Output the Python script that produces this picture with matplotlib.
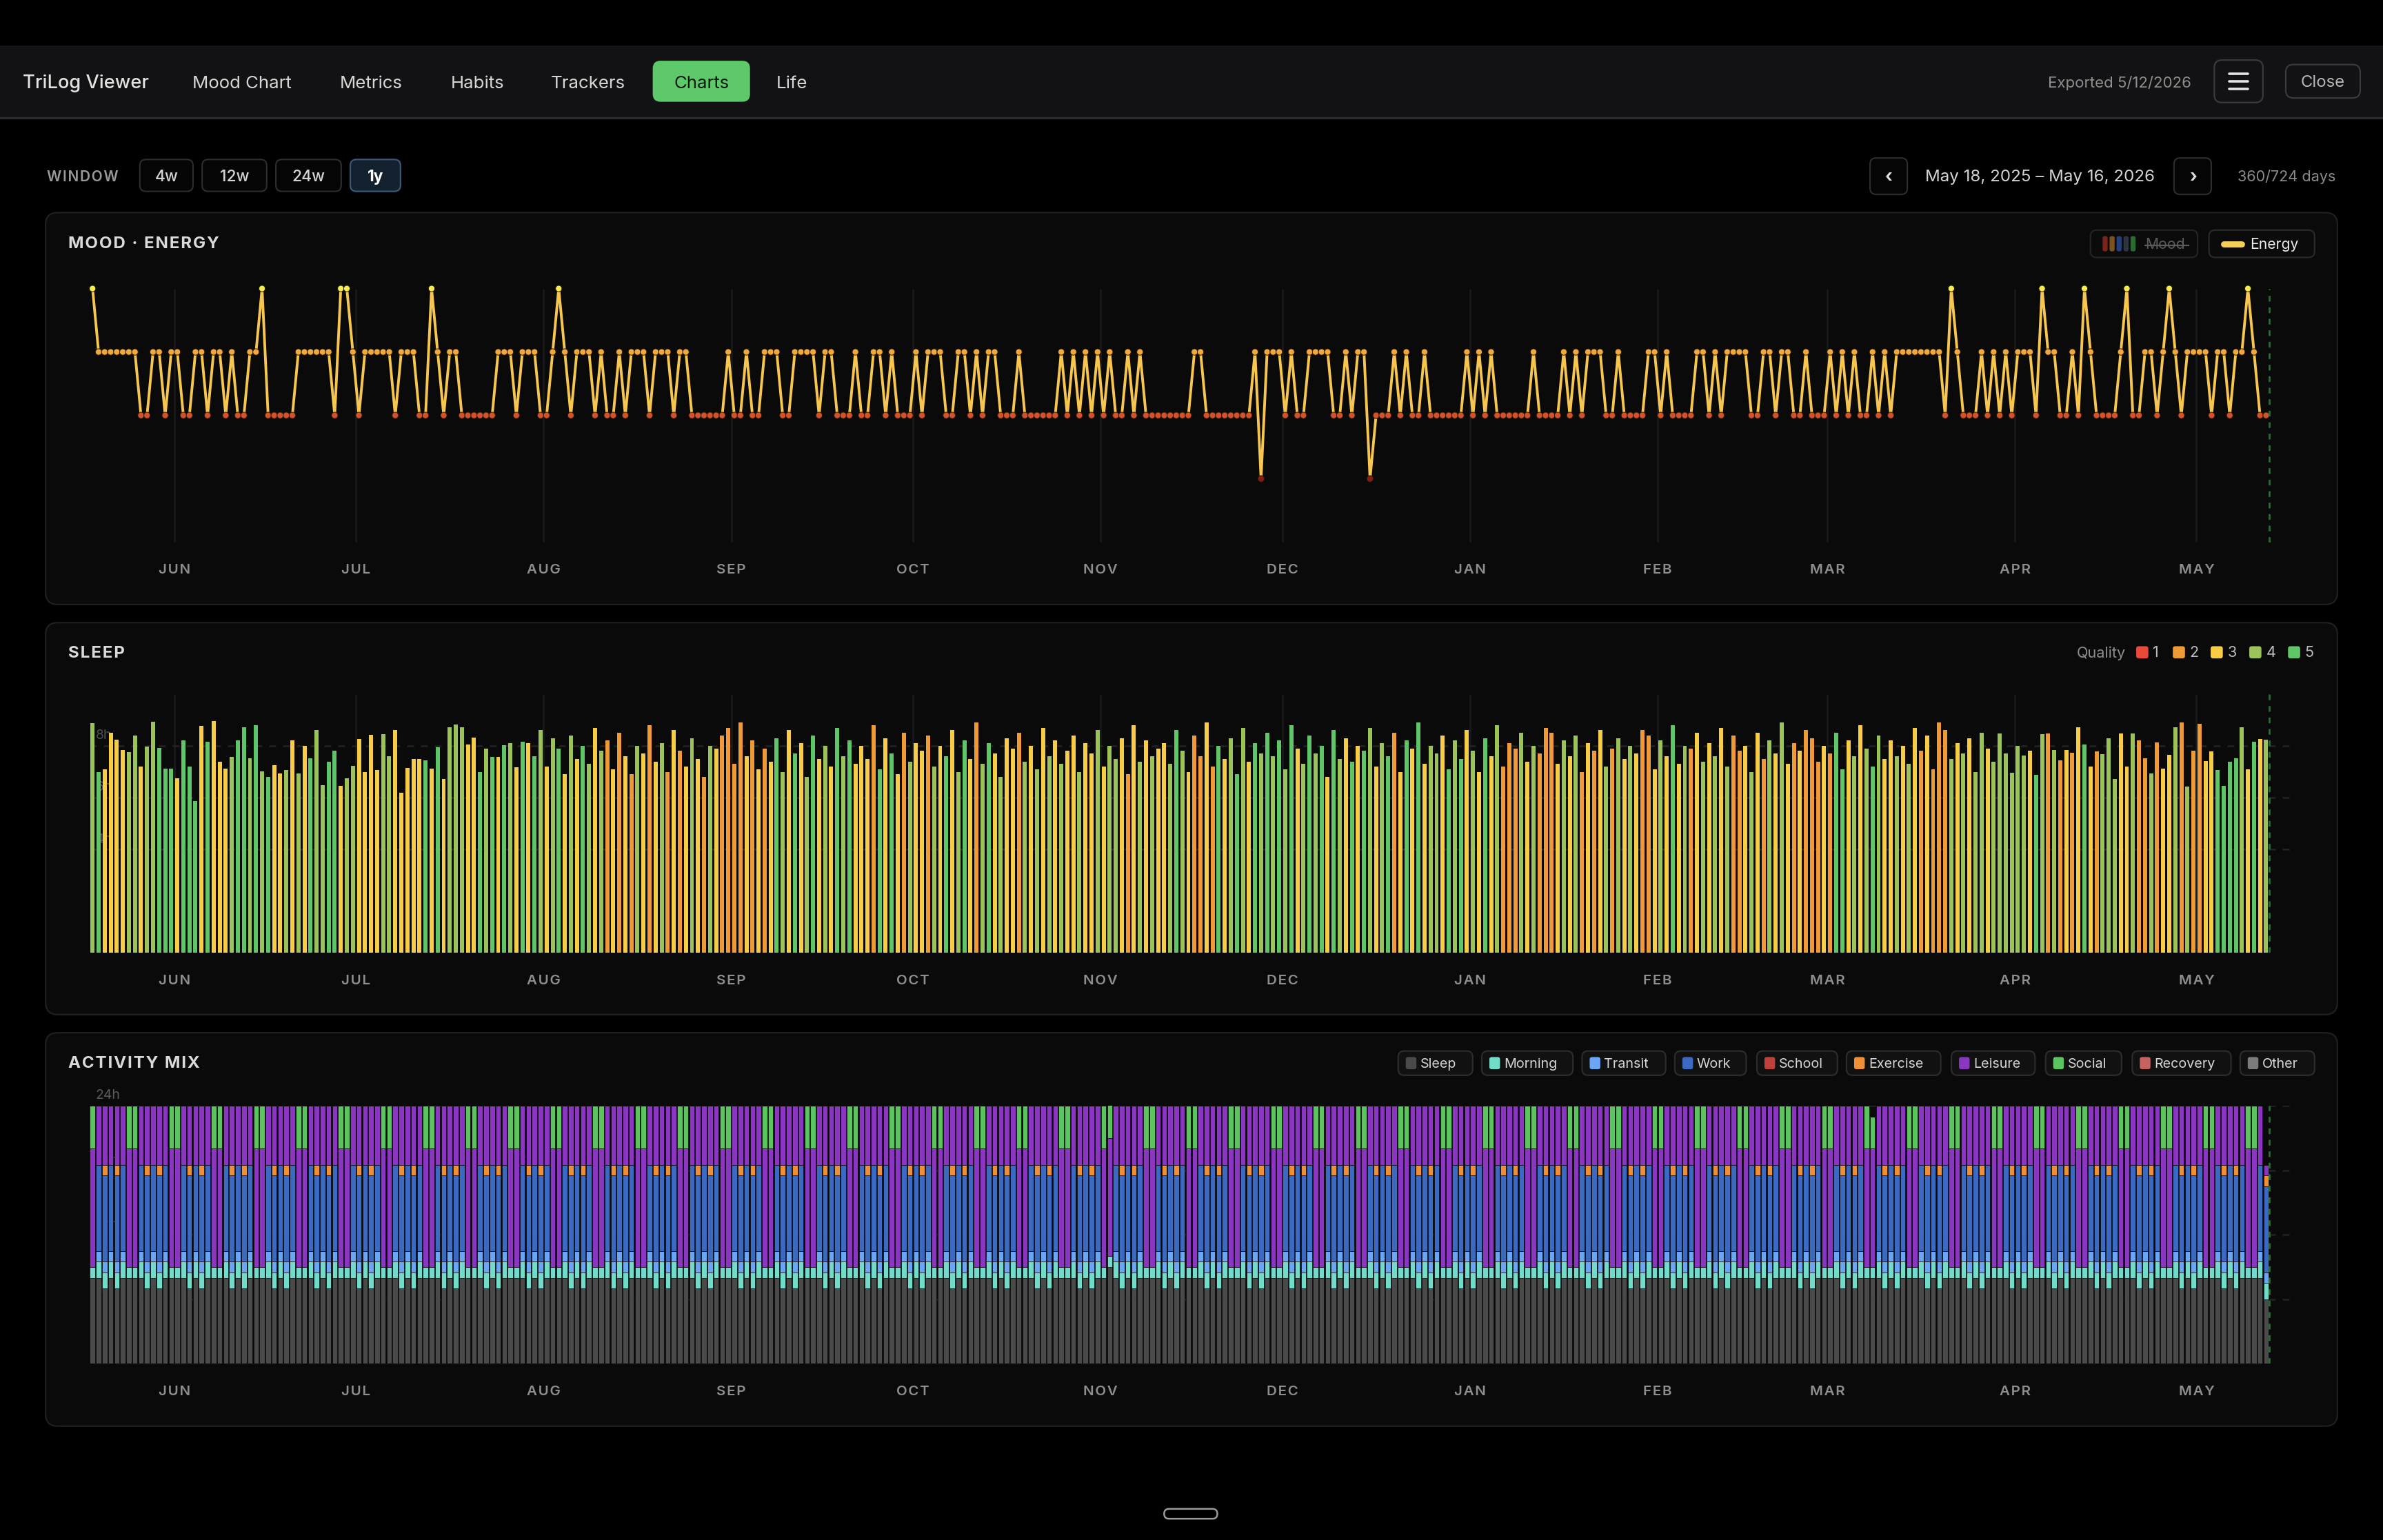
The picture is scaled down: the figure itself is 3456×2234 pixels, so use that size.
import matplotlib
matplotlib.use('Agg')
import matplotlib.pyplot as plt
from matplotlib.patches import FancyBboxPatch
import numpy as np

plt.rcParams['font.family'] = ['Inter', 'DejaVu Sans']

# ---------------- data ----------------
MONTHS = ['JUN', 'JUL', 'AUG', 'SEP', 'OCT', 'NOV', 'DEC', 'JAN', 'FEB', 'MAR', 'APR', 'MAY']
MONTH_DAY = [14, 44, 75, 106, 136, 167, 197, 228, 259, 287, 318, 348]  # days after May 18, 2025
AXIS_DAYS = 364
TODAY = 360

# daily energy level, May 18 2025 -> May 12 2026 (360 days)
ENERGY = ("5444444433" "4434433443" "4434334453" "3333444444" "3554344444"
          "3444335434" "4333333444" "3444334543" "4443433434" "4434443443"
          "3333343343" "3444334444" "3443334334" "4343334344" "4334434344"
          "3334333333" "4343434343" "3434333333" "3344333333" "3342444343"
          "3444433434" "4233343433" "4333333434" "3433333343" "3334343444"
          "3343333443" "4333344343" "4444334434" "4334333434" "3433434344"
          "4444443543" "3343434344" "4354433435" "4333345334" "4345434444"
          "3443445433")

# nightly sleep (hours) and quality (1-5)
SLEEP_HOURS = [
    8.87, 7.0, 7.1, 8.5, 8.23, 7.85, 7.77, 8.4, 7.2, 7.96, 8.93, 7.93, 7.11, 7.11, 6.74,
    8.21, 7.2, 5.88, 8.76, 8.15, 8.96, 7.4, 7.13, 7.57, 8.21, 8.73, 7.53, 8.8, 7.02, 6.8,
    7.25, 6.94, 7.08, 8.2, 6.94, 8.0, 7.53, 8.6, 6.47, 7.38, 7.81, 6.45, 6.76, 7.23, 8.27,
    7.0, 8.42, 7.06, 8.46, 7.6, 8.61, 6.2, 7.16, 7.5, 7.5, 7.43, 7.11, 7.95, 6.71, 8.73,
    8.82, 8.71, 8.04, 8.31, 7.0, 7.88, 7.57, 7.57, 8.03, 8.1, 7.17, 8.17,
    8.1, 7.6, 8.6, 7.2, 8.3, 7.9, 6.9, 8.4, 7.5, 8.0, 7.3, 8.7, 7.8,
    8.2, 7.1, 8.5, 7.6, 6.9, 8.0, 7.7,
    8.8, 7.4, 8.1, 7.0, 8.6, 7.8, 7.2, 8.3, 7.5, 6.8, 8.0, 7.9, 8.4,
    8.7, 7.3, 8.9, 7.6, 8.2, 7.1, 7.9,
    7.4, 8.3, 7.0, 8.6, 7.7, 8.1, 6.8, 8.4, 7.5, 8.0, 7.2, 8.7, 7.6, 8.2, 7.3,
    8.0, 7.5, 8.8, 7.1, 8.3, 7.7, 6.9, 8.5, 7.4, 8.1,
    7.8, 8.4, 7.2, 8.0, 7.6, 8.6, 7.0, 8.2, 7.5, 8.9, 7.3, 8.1, 7.7, 6.8, 8.3,
    7.9, 8.5, 7.4, 8.0, 7.1, 8.7, 7.6, 8.2, 7.3, 7.8,
    8.4, 7.0, 8.1, 7.7, 8.6, 7.2, 8.0, 7.5, 8.3, 6.9, 8.8, 7.4, 8.2, 7.6, 7.9,
    8.1, 7.3, 8.6, 7.8, 7.0, 8.4, 7.6, 8.9, 7.2, 8.0, 7.5, 8.3, 6.9, 8.7, 7.4, 8.1, 7.7, 8.5,
    7.6, 8.2, 7.1, 8.8, 7.9, 7.3, 8.4, 7.7, 8.0, 6.8, 8.6, 7.5,
    8.3, 7.4, 8.0, 7.8, 8.7, 7.2, 8.1, 7.6, 8.5, 7.0, 8.2, 7.9, 8.9, 7.3, 8.0,
    7.7, 8.4, 7.1, 8.2, 7.5, 8.6, 7.8, 7.0, 8.3, 7.6, 8.8, 7.2, 8.1, 7.9, 8.5,
    7.4, 8.0, 7.7, 8.7, 8.5, 7.3, 8.2, 7.6, 8.4, 7.0, 8.1, 7.8, 8.6, 7.2, 7.9,
    8.3, 7.5, 8.0, 7.7, 8.6, 8.4, 7.1, 8.2, 7.6, 8.8, 7.3, 8.0, 7.9, 8.5, 7.4,
    8.1, 7.6, 8.7, 7.2, 8.4, 7.8, 8.0, 7.0, 8.5, 7.5, 8.2, 7.7, 8.9, 7.3, 8.1,
    7.8, 8.6, 8.3, 7.4, 8.0, 7.7, 8.5, 7.1, 8.2, 7.6, 8.8, 7.9, 7.2, 8.4, 7.5,
    8.2, 7.6, 8.0, 7.3, 8.7, 7.8, 8.4, 7.1, 8.9, 8.6, 7.5, 8.1, 7.7, 8.3, 7.0, 8.5, 7.9, 7.4,
    8.47, 7.7, 6.97, 8.0, 7.63, 7.81, 6.89, 8.45, 8.49, 7.85, 7.45, 7.85, 7.73, 8.72, 8.06,
    7.21, 7.78, 7.69, 8.29, 6.71, 8.47, 7.2, 8.47, 8.2, 7.53, 6.94, 8.14, 7.13, 7.66, 8.72,
    8.91, 6.44, 7.81, 8.85, 7.41, 7.78, 7.06, 6.46, 7.38, 7.53, 8.72, 7.09, 8.16, 8.27, 8.25,
]
SLEEP_QUALITY = ("4533334434" "4555355535" "3334554545" "3343435445" "5344333344"
                 "3333353534" "4433545354" "35"
                 "3543453435434" "2323243" "2342323432432" "2223232" "354353453435453"
                 "3325353243" "324353453245343" "3243434343" "343343443234343"
                 "345432232534543545" "454534545354" "353543452353534" "435453435342224"
                 "342223434232342" "434322343534234" "343422343243432" "322232553434543"
                 "343432322243434434"
                 "4444435424" "2323532444" "3342242334" "2422335555" "43534")

ACTIVITIES = ['Sleep', 'Morning', 'Transit', 'Work', 'School', 'Exercise', 'Leisure', 'Social',
              'Recovery', 'Other']
# hours per activity for each kind of day (W weekend, N workday, E workday + exercise,
# L 25h DST day, S 23h DST day, P partial last day)
DAY_KIND_HOURS = {
    'W': [8, 1, 0, 0, 0, 0, 11, 4, 0, 0],
    'N': [8, 1.5, 1, 8, 0, 0, 5.5, 0, 0, 0],
    'E': [7, 1.5, 1, 8, 0, 1, 5.5, 0, 0, 0],
    'L': [9, 1, 0, 0, 0, 0, 11, 4, 0, 0],
    'S': [8, 1, 0, 0, 0, 0, 11, 3, 0, 0],
    'P': [6, 1.5, 1, 8, 0, 1, 1, 0, 0, 0],
}
DAY_KINDS = ("WNENENW" "WNENENW" "WNENENW" "WNENENW" "WNENENW" "WNENENW" "WNENENW" "WNENENW"
             "WNENENW" "WNENENW" "WNENENW" "WNENENW" "WNENENW" "WNENENW" "WNENENW" "WNENENW"
             "WNENENW" "WNENENW" "WNENENW" "WNENENW" "WNENENW" "WNENENW" "WNENENW" "WNENENW"
             "LNENENW" "WNENENW" "WNENENW" "WNENENW" "WNENENW" "WNENENW" "WNENENW" "WNENENW"
             "WNENENW" "WNENENW" "WNENENW" "WNENENW" "WNENENW" "WNENENW" "WNENENW" "WNENENW"
             "WNENENW" "WNENENW" "SNENENW" "WNENENW" "WNENENW" "WNENENW" "WNENENW" "WNENENW"
             "WNENENW" "WNENENW" "WNENENW" "WNP")

# ---------------- styles ----------------
ENERGY_COLORS = {5: '#f7ec4a', 4: '#f2a83a', 3: '#d6502a', 2: '#8a1b12'}
QUALITY_COLORS = {1: '#e9493b', 2: '#f09a36', 3: '#f7cd46', 4: '#9cc35a', 5: '#5fc567'}
ACT_COLORS = ['#4a4a4a', '#72dccb', '#6aa6f4', '#3c6ac2', '#c0403a', '#f08f36', '#8a36c2',
              '#5cc45f', '#c6625f', '#7c7c7c']

BG = '#000000'
NAV_BG = '#121214'
PANEL_BG = '#0a0a0a'
PANEL_EDGE = '#202022'
GRID = '#1b1b1b'
MUTED = '#8e8e8e'


def spaced(s):
    return '\u200a'.join(s)


fig = plt.figure(figsize=(17.28, 11.17), dpi=200, facecolor=BG)
bg = fig.add_axes([0, 0, 1, 1])
bg.set_xlim(0, 1568)
bg.set_ylim(1014, 0)
bg.axis('off')
bg.set_facecolor(BG)


def box(x0, y0, x1, y1, r, fc, ec, lw=0.8, z=1):
    bg.add_patch(FancyBboxPatch((x0, y0), x1 - x0, y1 - y0,
                                boxstyle=f"round,pad=0,rounding_size={r}",
                                fc=fc, ec=ec, lw=lw, zorder=z))


def frame_axes(x0, y0, x1, y1):
    return fig.add_axes([x0 / 1568, 1 - y1 / 1014, (x1 - x0) / 1568, (y1 - y0) / 1014])


# nav bar
bg.add_patch(plt.Rectangle((0, 30), 1568, 47.6, fc=NAV_BG, ec='none', zorder=0))
bg.plot([0, 1568], [77.6, 77.6], color='#2a2a2c', lw=1.2, zorder=1)
bg.text(15, 55, 'TriLog Viewer', color='#e2e2e2', fontsize=9.8, va='center', ha='left', fontweight='medium')
for label, xc in [('Mood Chart', 159), ('Metrics', 244), ('Habits', 314), ('Trackers', 387), ('Life', 521)]:
    bg.text(xc, 55, label, color='#d6d6d6', fontsize=9.3, va='center', ha='center')
box(429.5, 40, 493.5, 67, 5, '#5ec96a', 'none', z=2)
bg.text(461.5, 55, 'Charts', color='#0c1a0e', fontsize=9.3, va='center', ha='center', zorder=3)
bg.text(1442, 54.5, 'Exported 5/12/2026', color=MUTED, fontsize=8, va='center', ha='right')
box(1457, 39.5, 1489, 67.5, 5, NAV_BG, '#3a3a3c', z=2)
for yy in (48.5, 53.5, 58.5):
    bg.plot([1467, 1479], [yy, yy], color='#e6e6e6', lw=1.3, solid_capstyle='round', zorder=3)
box(1504, 42.5, 1553, 64.5, 5, NAV_BG, '#3a3a3c', z=2)
bg.text(1528.5, 54.5, 'Close', color='#b8b8b8', fontsize=8.6, va='center', ha='center', zorder=3)

# window row
bg.text(31, 116.5, spaced('WINDOW'), color='#9a9a9a', fontsize=7.5, va='center', ha='left', fontweight='semibold')
for label, x0, x1, sel in [('4w', 92, 127, False), ('12w', 133, 175.5, False),
                           ('24w', 181.5, 224.5, False), ('1y', 230.5, 263.5, True)]:
    box(x0, 105, x1, 126, 4, '#13202e' if sel else '#050505', '#3b5878' if sel else '#2c2c2c', z=2)
    bg.text((x0 + x1) / 2, 116.5, label, color='#ffffff' if sel else '#d4d4d4', fontsize=8.2,
            va='center', ha='center', fontweight='bold' if sel else 'medium', zorder=3)
box(1230.5, 104, 1255, 128, 4, '#050505', '#2c2c2c', z=2)
bg.text(1242.8, 117, '‹', color='#e0e0e0', fontsize=9, va='center', ha='center', fontweight='bold', zorder=3)
box(1430.5, 104, 1455, 128, 4, '#050505', '#2c2c2c', z=2)
bg.text(1442.8, 117, '›', color='#e0e0e0', fontsize=9, va='center', ha='center', fontweight='bold', zorder=3)
bg.text(1342.5, 116.5, 'May 18, 2025 – May 16, 2026', color='#d4d4d4', fontsize=8.7, va='center', ha='center')
bg.text(1537, 116.5, '360/724 days', color='#8a8a8a', fontsize=7.8, va='center', ha='right')

# panels
PANELS = [(140, 398, 'MOOD · ENERGY'), (410, 668, 'SLEEP'), (680, 939, 'ACTIVITY MIX')]
for y0, y1, title in PANELS:
    box(30, y0, 1538, y1, 8, PANEL_BG, PANEL_EDGE, lw=0.8, z=1)
    bg.text(45, y0 + 20.5, spaced(title), color='#dadada', fontsize=8.7, va='center', ha='left',
            fontweight='bold', zorder=3)

# mood legend chips
box(1375.5, 151.5, 1446, 169.5, 4, '#0b0b0b', '#242424', z=2)
for i, c in enumerate(['#7a2418', '#7c5320', '#24407a', '#2f3540', '#2b6a33']):
    box(1383.5 + i * 4.6, 155.5, 1386.8 + i * 4.6, 165.5, 1.2, c, 'none', z=3)
bg.text(1411.5, 161, 'Mood', color='#5c5c5c', fontsize=7.6, va='center', ha='left', zorder=3)
bg.plot([1411.5, 1440], [161.5, 161.5], color='#5c5c5c', lw=0.8, zorder=4)
box(1453.5, 151.5, 1523, 169.5, 4, '#0b0b0b', '#2a2a2a', z=2)
bg.plot([1463, 1475], [160.5, 160.5], color='#f7cf55', lw=3.2, solid_capstyle='round', zorder=3)
bg.text(1480.5, 161, 'Energy', color='#ececec', fontsize=7.6, va='center', ha='left', zorder=3)

# sleep quality legend
bg.text(1398.5, 430, 'Quality', color='#8c8c8c', fontsize=7.8, va='center', ha='right', zorder=3)
for q, xs in zip(range(1, 6), [1405.6, 1429.7, 1454.6, 1480.0, 1505.5]):
    box(xs, 425.5, xs + 8, 433.5, 1.6, QUALITY_COLORS[q], 'none', z=3)
    bg.text(xs + 11, 430, str(q), color='#bdbdbd', fontsize=7.8, va='center', ha='left', zorder=3)

# activity legend chips
CHIP_X = [(920, 969), (975, 1035), (1041, 1096), (1102, 1149), (1156, 1209),
          (1215, 1277), (1284, 1339), (1346, 1396), (1403, 1468), (1474, 1523)]
for name, col, (x0, x1) in zip(ACTIVITIES, ACT_COLORS, CHIP_X):
    box(x0, 692, x1, 708, 4, '#111111', '#2c2c2c', z=2)
    box(x0 + 5, 696, x0 + 12, 704, 1.5, col, 'none', z=3)
    bg.text(x0 + 14.5, 700.6, name, color='#d8d8d8', fontsize=7.1, va='center', ha='left', zorder=3)

# bottom pill
box(766, 993.5, 801, 1000, 3.2, 'none', '#9a9a9a', lw=0.9, z=2)

# ---------------- charts ----------------
X0, X1 = 58.9, 1509.0
energy = np.array([int(c) for c in ENERGY])
day_x = np.arange(len(energy)) + 0.5


def style_time_axis(ax, ybot, ytop):
    ax.set_facecolor('none')
    for s in ax.spines.values():
        s.set_visible(False)
    ax.set_xlim(0, AXIS_DAYS)
    ax.set_ylim(ybot, ytop)
    ax.set_yticks([])
    ax.set_xticks(MONTH_DAY)
    ax.set_xticklabels([spaced(m) for m in MONTHS], color=MUTED, fontsize=7.4, fontweight='semibold')
    ax.tick_params(axis='x', length=0, pad=11.4)
    ax.vlines(MONTH_DAY, ybot, ytop, color=GRID, lw=0.9, zorder=0)
    ax.vlines([TODAY], ybot, ytop, color='#2d6a35', lw=1.0, linestyles=(0, (3, 3)), zorder=5)


# mood / energy
ax1 = frame_axes(X0, 190, X1, 357)
style_time_axis(ax1, 1, 5)
ax1.plot(day_x, energy, color='#f6c64f', lw=1.4, zorder=2, solid_joinstyle='miter')
ax1.scatter(day_x, energy, s=11, c=[ENERGY_COLORS[v] for v in energy], edgecolors='#2a1a08',
            linewidths=0.35, zorder=3, clip_on=False)

# sleep
sleep_hours = np.array(SLEEP_HOURS)
sleep_q = [int(c) for c in SLEEP_QUALITY]
ax2 = frame_axes(X0, 457, X1, 627.5)
style_time_axis(ax2, 0, 10)
ax2.hlines([4, 6, 8], 0, AXIS_DAYS, color='#232323', lw=0.9, linestyles=(0, (4, 4)), zorder=0)
for h in (4, 6, 8):
    ax2.text(1.0, h + 0.15, f'{h}h', color='#4e4e4e', fontsize=7, va='bottom', ha='left', zorder=1)
ax2.bar(day_x[:len(sleep_hours)], sleep_hours, width=0.68,
        color=[QUALITY_COLORS[q] for q in sleep_q], zorder=2)

# activity mix
ax3 = frame_axes(X0, 728, X1, 898)
style_time_axis(ax3, 0, 24)
ax3.hlines([6, 12, 18, 24], 0, AXIS_DAYS, color='#232323', lw=0.9, linestyles=(0, (4, 4)), zorder=0)
for h in (6, 12, 18):
    ax3.text(1.0, h + 0.3, f'{h}h', color='#505050', fontsize=7, va='bottom', ha='left', zorder=1)
ax3.text(1.0, 24.4, '24h', color='#5a5a5a', fontsize=7, va='bottom', ha='left', clip_on=False)
hours = np.array([DAY_KIND_HOURS[k] for k in DAY_KINDS])
bottom = np.zeros(len(hours))
for j, col in enumerate(ACT_COLORS):
    ax3.bar(day_x[:len(hours)], hours[:, j], bottom=bottom, width=0.86, color=col, zorder=2,
            edgecolor='#0a0a0a', linewidth=0.25)
    bottom += hours[:, j]

fig.savefig('out.png', dpi=200, facecolor=BG)
